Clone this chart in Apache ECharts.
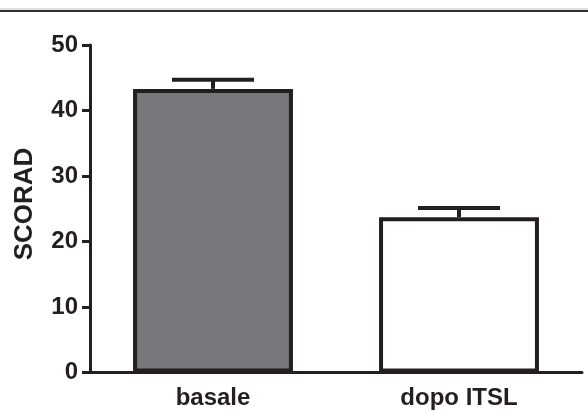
<!DOCTYPE html>
<html>
<head>
<meta charset="utf-8">
<script src="https://cdn.jsdelivr.net/npm/echarts@6/dist/echarts.min.js"></script>
<style>html,body{margin:0;padding:0;background:#fff}#c{width:588px;height:411px}</style>
</head>
<body>
<div id="c"></div>
<script>
const categories = ['basale', 'dopo ITSL'];
const means = [43.3, 23.7];
const sem = [1.4, 1.4];
const barColors = ['#77787b', '#ffffff'];
const yMin = 0, yMax = 50, yInterval = 10;
const axisTitle = 'SCORAD';

const ink = '#231f20';
const font = 'Liberation Sans, Arial, sans-serif';
const chart = echarts.init(document.getElementById('c'), null, {renderer: 'canvas'});

chart.setOption({
  animation: false,
  backgroundColor: '#ffffff',
  grid: {left: 90, right: 6, top: 45, bottom: 38.5, containLabel: false},
  graphic: [
    {type: 'line', shape: {x1: 0, y1: 9, x2: 588, y2: 9}, style: {stroke: '#bdbdbd', lineWidth: 1}},
    {type: 'line', shape: {x1: 0, y1: 11, x2: 588, y2: 11}, style: {stroke: '#333333', lineWidth: 2}},
    {type: 'text', x: 25, y: 204, rotation: Math.PI / 2,
     style: {text: axisTitle, fill: ink, font: 'bold 26px ' + font, textAlign: 'center', textVerticalAlign: 'middle'}}
  ],
  xAxis: {
    type: 'category',
    data: categories,
    axisLine: {lineStyle: {color: ink, width: 3}},
    axisTick: {alignWithLabel: true, length: 9, lineStyle: {color: ink, width: 3}},
    axisLabel: {margin: 14, color: ink, fontFamily: font, fontWeight: 'bold', fontSize: 24}
  },
  yAxis: {
    type: 'value',
    min: yMin, max: yMax, interval: yInterval,
    splitLine: {show: false},
    axisLine: {show: true, lineStyle: {color: ink, width: 3}},
    axisTick: {show: true, length: 8, lineStyle: {color: ink, width: 3}},
    axisLabel: {margin: 12, color: ink, fontFamily: font, fontWeight: 'bold', fontSize: 24}
  },
  series: [
    {
      type: 'bar',
      barWidth: '65%',
      data: means.map((v, i) => ({value: v, itemStyle: {color: barColors[i]}})),
      itemStyle: {borderColor: ink, borderWidth: 4},
      z: 2
    },
    {
      type: 'custom',
      z: 3,
      data: means.map((v, i) => [i, v, v + sem[i]]),
      renderItem: function (params, api) {
        const x = api.value(0);
        const top = api.coord([x, api.value(1)]);
        const hi = api.coord([x, api.value(2)]);
        const half = api.size([1, 0])[0] / 6;
        return {
          type: 'group',
          children: [
            {type: 'line', shape: {x1: top[0], y1: top[1], x2: hi[0], y2: hi[1]}, style: {stroke: ink, lineWidth: 4}},
            {type: 'line', shape: {x1: hi[0] - half, y1: hi[1], x2: hi[0] + half, y2: hi[1]}, style: {stroke: ink, lineWidth: 4}}
          ]
        };
      }
    }
  ]
});
</script>
</body>
</html>
